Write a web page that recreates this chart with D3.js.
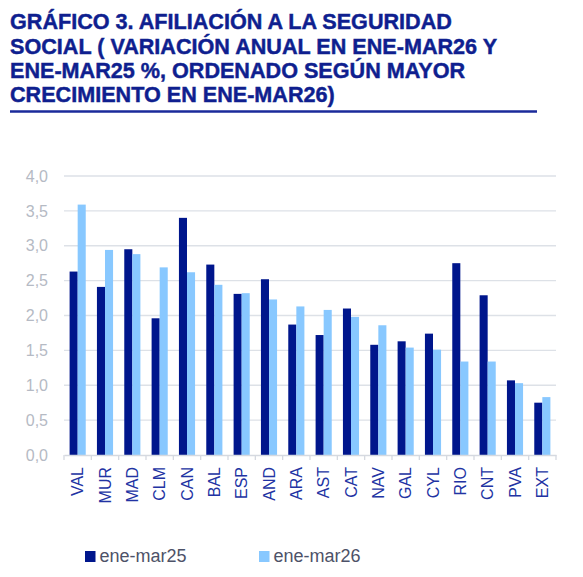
<!DOCTYPE html>
<html>
<head>
<meta charset="utf-8">
<script src="https://cdn.jsdelivr.net/npm/d3@7"></script>
<style>
  body { margin: 0; background: #fff; }
  svg { display: block; font-family: "Liberation Sans", Arial, sans-serif; }
</style>
</head>
<body>
<svg id="chart"></svg>
<script>
const regions = ["VAL", "MUR", "MAD", "CLM", "CAN", "BAL", "ESP", "AND", "ARA", "AST", "CAT", "NAV", "GAL", "CYL", "RIO", "CNT", "PVA", "EXT"]
const eneMar25 = [2.63, 2.41, 2.95, 1.96, 3.40, 2.73, 2.31, 2.52, 1.87, 1.72, 2.10, 1.58, 1.63, 1.74, 2.75, 2.29, 1.07, 0.75]
const eneMar26 = [3.59, 2.94, 2.88, 2.69, 2.62, 2.44, 2.32, 2.23, 2.13, 2.08, 1.98, 1.86, 1.54, 1.51, 1.34, 1.34, 1.03, 0.83]
const yTicks = [0, 0.5, 1, 1.5, 2, 2.5, 3, 3.5, 4]
const seriesNames = ["ene-mar25", "ene-mar26"]
const titleLines = [
  "GRÁFICO 3. AFILIACIÓN A LA SEGURIDAD",
  "SOCIAL ( VARIACIÓN ANUAL EN ENE-MAR26 Y",
  "ENE-MAR25 %, ORDENADO SEGÚN MAYOR",
  "CRECIMIENTO EN ENE-MAR26)"
]

const colors = ["#00168c", "#88c8ff"]
const svgWidth = 583
const svgHeight = 577
const margin = { top: 176, right: 27, bottom: 122, left: 64 }
const width = svgWidth - margin.left - margin.right
const height = svgHeight - margin.top - margin.bottom

const svg = d3.select("#chart").attr("width", svgWidth).attr("height", svgHeight)

// title
svg.append("g")
  .selectAll("text")
  .data(titleLines)
  .enter()
  .append("text")
  .attr("x", 10)
  .attr("y", (d, i) => 29.3 + i * 24.2)
  .attr("fill", "#0f1f8f")
  .attr("stroke", "#0f1f8f")
  .attr("stroke-width", 0.45)
  .attr("font-weight", "bold")
  .attr("font-size", 21.6)
  .text((d) => d)

svg.append("line")
  .attr("x1", 10).attr("x2", 537)
  .attr("y1", 111.5).attr("y2", 111.5)
  .attr("stroke", "#1a2a9a")
  .attr("stroke-width", 2.5)

const g = svg.append("g").attr("transform", `translate(${margin.left},${margin.top})`)

const x0 = d3.scaleBand().domain(regions).range([0, width]).paddingInner(0.41).paddingOuter(0.205)
const x1 = d3.scaleBand().domain(seriesNames).range([0, x0.bandwidth()])
const y = d3.scaleLinear().domain([0, 4]).range([height, 0])

// grid
g.append("g")
  .selectAll("line")
  .data(yTicks.slice(1))
  .enter()
  .append("line")
  .attr("x1", 0).attr("x2", width)
  .attr("y1", (d) => y(d)).attr("y2", (d) => y(d))
  .attr("stroke", "#dde1e7")
  .attr("stroke-width", 1.3)

const rows = regions.map((r, i) => ({ region: r, values: [eneMar25[i], eneMar26[i]] }))

g.append("g")
  .selectAll("g")
  .data(rows)
  .enter()
  .append("g")
  .attr("transform", (d) => `translate(${x0(d.region)},0)`)
  .selectAll("rect")
  .data((d) => d.values.map((v, k) => ({ key: seriesNames[k], value: v, k })))
  .enter()
  .append("rect")
  .attr("x", (d) => x1(d.key))
  .attr("width", x1.bandwidth())
  .attr("y", (d) => y(d.value))
  .attr("height", (d) => height - y(d.value))
  .attr("fill", (d) => colors[d.k])

// y axis
const yAxis = g.append("g")
  .call(d3.axisLeft(y).tickValues(yTicks).tickSize(0).tickPadding(16)
    .tickFormat((d) => d3.format(".1f")(d).replace(".", ",")))
yAxis.select(".domain").remove()
yAxis.selectAll("text")
  .attr("fill", "#b5bac4")
  .attr("font-size", 16)
  .attr("font-family", "Liberation Sans, Arial, sans-serif")

// x axis
const xAxis = g.append("g")
  .attr("transform", `translate(0,${height})`)
  .call(d3.axisBottom(x0).tickSize(0).tickPadding(0))
xAxis.select(".domain").attr("stroke", "#d5d9e0").attr("stroke-width", 1.3)
xAxis.selectAll(".tick line").remove()

g.append("g")
  .attr("transform", `translate(0,${height})`)
  .selectAll("line")
  .data(d3.range(regions.length + 1))
  .enter()
  .append("line")
  .attr("x1", (d) => d * x0.step()).attr("x2", (d) => d * x0.step())
  .attr("y1", 0).attr("y2", 5)
  .attr("stroke", "#d5d9e0")
  .attr("stroke-width", 1.3)

xAxis.selectAll("text")
  .attr("fill", "#2233a3")
  .attr("font-size", 16)
  .attr("font-family", "Liberation Sans, Arial, sans-serif")
  .style("text-anchor", "end")
  .attr("transform", "rotate(-90)")
  .attr("x", -12)
  .attr("y", 0)
  .attr("dy", "0.35em")

// legend
const legend = svg.append("g")
  .selectAll("g")
  .data(seriesNames)
  .enter()
  .append("g")
  .attr("transform", (d, i) => `translate(${85 + i * 174},551)`)

legend.append("rect")
  .attr("width", 10.5).attr("height", 11)
  .attr("fill", (d, i) => colors[i])

legend.append("text")
  .attr("x", 14.5)
  .attr("y", 11)
  .attr("fill", "#4d5268")
  .attr("font-size", 18)
  .text((d) => d)
</script>
</body>
</html>
